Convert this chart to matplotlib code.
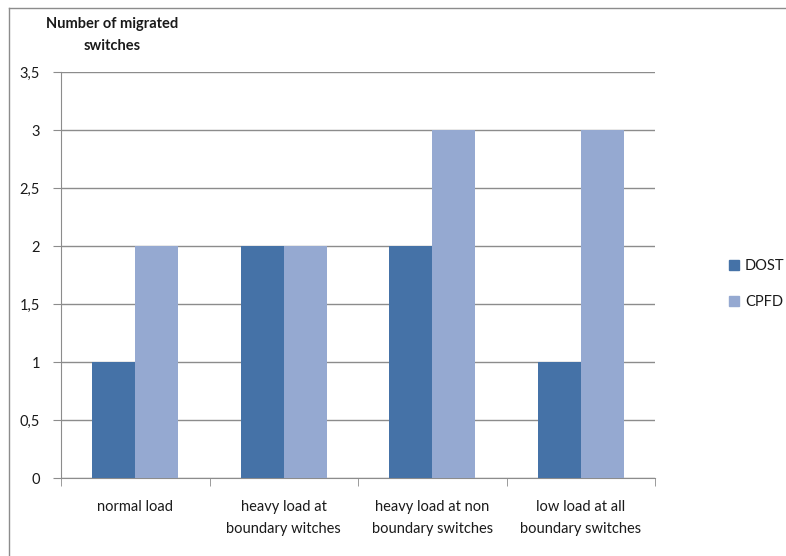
import matplotlib
matplotlib.use("Agg")
import matplotlib.pyplot as plt
from matplotlib.patches import Patch
from matplotlib.lines import Line2D
import numpy as np

categories = ["normal load", "heavy load at\nboundary witches",
              "heavy load at non\nboundary switches", "low load at all\nboundary switches"]
dost = [1, 2, 2, 1]
cpfd = [2, 2, 3, 3]
yticks = [0, 0.5, 1, 1.5, 2, 2.5, 3, 3.5]
ytick_labels = ["0", "0,5", "1", "1,5", "2", "2,5", "3", "3,5"]
series_names = ["DOST", "CPFD"]
colors = ["#4572A7", "#95A9D1"]

plt.rcParams['font.family'] = ['Lato', 'DejaVu Sans']
txt = "#1a1a1a"

fig = plt.figure(figsize=(7.86, 5.56), dpi=100)
W, H = 786, 556
ax = fig.add_axes([61 / W, 1 - 478 / H, (655 - 61) / W, (478 - 72) / H])

x = np.arange(len(categories))
bw = 0.29
ax.bar(x - bw / 2, dost, width=bw, color=colors[0], zorder=3)
ax.bar(x + bw / 2, cpfd, width=bw, color=colors[1], zorder=3)

ax.set_xlim(-0.5, len(categories) - 0.5)
ax.set_ylim(0, 3.5)
ax.set_yticks(yticks)
ax.set_yticklabels(ytick_labels, fontsize=10.5, color=txt)
ax.yaxis.grid(True, color="#8c8c8c", linewidth=1.0, zorder=0)
ax.set_axisbelow(True)

ax.set_xticks(x)
ax.set_xticklabels(categories, fontsize=10.5, linespacing=1.75, color=txt)
ax.tick_params(axis='x', length=0, pad=16)
ax.tick_params(axis='y', length=6, color="#8c8c8c", pad=9)
# category boundary ticks
ax.set_xticks(np.arange(-0.5, len(categories) + 0.5, 1), minor=True)
ax.tick_params(axis='x', which='minor', length=6, color="#8c8c8c")

for s in ["top", "right"]:
    ax.spines[s].set_visible(False)
for s in ["left", "bottom"]:
    ax.spines[s].set_color("#8c8c8c")

fig.text(112 / W, 1 - 35 / H, "Number of migrated\nswitches", ha="center", va="center",
         fontsize=10.5, fontweight="bold", linespacing=1.75, color=txt)

handles = [Patch(color=c) for c in colors]
fig.legend(handles, series_names, loc="center left", bbox_to_anchor=(729 / W, 1 - 284 / H),
           frameon=False, fontsize=10.5, handlelength=0.7, handleheight=0.7,
           labelspacing=1.5, handletextpad=0.4, borderpad=0, borderaxespad=0,
           labelcolor=txt)

# outer chart border
fig.add_artist(Line2D([9 / W, 9 / W], [0, 1 - 8 / H], transform=fig.transFigure,
                      color="#8c8c8c", linewidth=1))
fig.add_artist(Line2D([9 / W, 1], [1 - 8 / H, 1 - 8 / H], transform=fig.transFigure,
                      color="#8c8c8c", linewidth=1))

fig.savefig("out.png", dpi=100)
